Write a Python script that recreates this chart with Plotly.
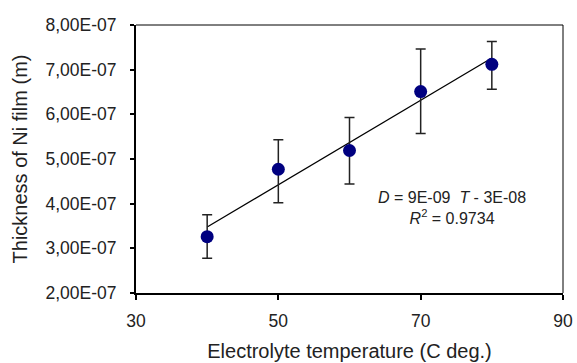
import numpy as np
import plotly.graph_objects as go

temperature = [40, 50, 60, 70, 80]
thickness = [3.26e-7, 4.77e-7, 5.19e-7, 6.51e-7, 7.12e-7]
err_upper = [3.75e-7, 5.43e-7, 5.93e-7, 7.46e-7, 7.63e-7]
err_lower = [2.78e-7, 4.02e-7, 4.44e-7, 5.57e-7, 6.56e-7]

y_tick_vals = [2e-7, 3e-7, 4e-7, 5e-7, 6e-7, 7e-7, 8e-7]
y_tick_text = ["2,00E-07", "3,00E-07", "4,00E-07", "5,00E-07", "6,00E-07", "7,00E-07", "8,00E-07"]
x_tick_vals = [30, 50, 70, 90]

t = np.array(temperature)
d = np.array(thickness)
slope, intercept = np.polyfit(t, d, 1)
trend_x = [min(temperature), max(temperature)]
trend_y = [slope * x + intercept for x in trend_x]

font_family = "Liberation Sans, Arial, sans-serif"

fig = go.Figure()
fig.add_trace(go.Scatter(
    x=trend_x, y=trend_y, mode="lines",
    line=dict(color="black", width=1.3), showlegend=False, hoverinfo="skip"))
fig.add_trace(go.Scatter(
    x=temperature, y=thickness, mode="markers",
    marker=dict(color="#000080", size=13),
    error_y=dict(type="data", symmetric=False,
                 array=[u - v for u, v in zip(err_upper, thickness)],
                 arrayminus=[v - l for v, l in zip(thickness, err_lower)],
                 color="#222222", thickness=1.5, width=5),
    showlegend=False))

fig.add_annotation(
    x=0.739, y=0.318, xref="paper", yref="paper", showarrow=False,
    xanchor="center", yanchor="middle",
    text="<i>D</i> = 9E-09&nbsp; <i>T</i> - 3E-08<br><i>R</i><sup>2</sup> = 0.9734",
    font=dict(family=font_family, size=16, color="#222222"), align="center")

fig.add_shape(type="line", xref="paper", yref="paper", x0=0, x1=1, y0=1, y1=1,
              line=dict(color="black", width=1))
fig.add_shape(type="line", xref="paper", yref="paper", x0=1, x1=1, y0=0, y1=1,
              line=dict(color="black", width=1))

fig.update_layout(
    width=577, height=363,
    margin=dict(l=136, r=14, t=25, b=70),
    paper_bgcolor="white", plot_bgcolor="white",
    font=dict(family=font_family, size=17.5, color="#222222"),
    xaxis=dict(range=[30, 90], tickvals=x_tick_vals, showgrid=False, zeroline=False,
               automargin=False,
               showline=True, linecolor="black", linewidth=2,
               ticks="outside", ticklen=5, tickcolor="black", tickwidth=1.5,
               ticklabelstandoff=6,
               tickfont=dict(size=17.5),
               title=dict(text="Electrolyte temperature (C deg.)", font=dict(size=20), standoff=14)),
    yaxis=dict(range=[2e-7, 8e-7], tickvals=y_tick_vals, ticktext=y_tick_text,
               showgrid=False, zeroline=False, automargin=False,
               showline=True, linecolor="black", linewidth=2,
               ticks="outside", ticklen=4, tickcolor="black", tickwidth=1.5,
               ticklabelstandoff=10,
               tickfont=dict(size=17.5),
               title=dict(text="Thickness of Ni film (m)", font=dict(size=20), standoff=12)),
)

fig.write_html(
    "out.html",
    config={"displayModeBar": False},
    post_script="document.body.style.margin='0';document.body.style.overflow='hidden';",
)
